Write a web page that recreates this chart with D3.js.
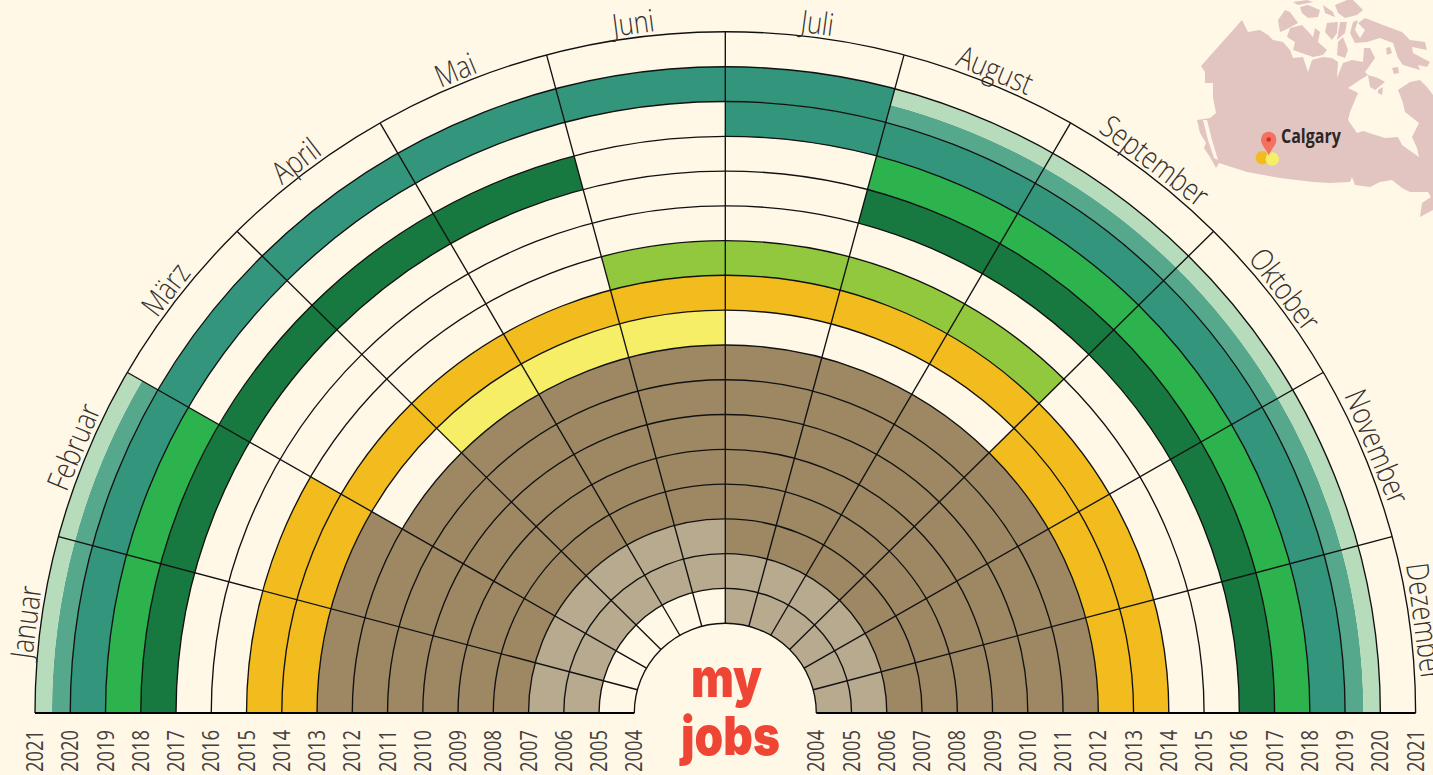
<!DOCTYPE html>
<html><head><meta charset="utf-8">
<script src="https://cdn.jsdelivr.net/npm/d3@7"></script>
<style>
html,body{margin:0;padding:0;background:#fff8e7;overflow:hidden}
svg{display:block}
</style></head><body><svg id="c" width="1433" height="775"></svg>
<script>
const months=["Januar","Februar","März","April","Mai","Juni","Juli","August","September","Oktober","November","Dezember"];
const yearLabels=[2004,2005,2006,2007,2008,2009,2010,2011,2012,2013,2014,2015,2016,2017,2018,2019,2020,2021];
const y2004="______LLLLLL".split("");
const y2005="LLLLLLLLLLLL".split("");
const y2006="LLLLLLBBBBBB".split("");
const y2007="BBBBBBBBBBBB".split("");
const y2008="BBBBBBBBBBBB".split("");
const y2009="BBBBBBBBBBBB".split("");
const y2010="BBBBBBBBBBBB".split("");
const y2011="BBBBBBBBBBBB".split("");
const y2012="BB_PPP___OOO".split("");
const y2013="OOOOOOOOOOOO".split("");
const y2014="OO___MMMM___".split("");
const y2015="____________".split("");
const y2016="_______DDDDD".split("");
const y2017="DDDDD__GGGGG".split("");
const y2018="GG____TTTTTT".split("");
const y2019="TTTTTTTSSSSS".split("");
const y2020="SS__________".split("");
const rows=[y2004,y2005,y2006,y2007,y2008,y2009,y2010,y2011,y2012,y2013,y2014,y2015,y2016,y2017,y2018,y2019,y2020];
const jobColors={L:"#b8aa8e",B:"#9e8864",O:"#f2bc1f",P:"#f6ee66",M:"#92c83e",D:"#17793f",G:"#2cb34d",T:"#32957c"};
const splitOuter="#b6dcbb", splitInner="#56a88d";

// decorative map outline
const land=[[1242,20],[1248,32],[1260,30],[1268,35],[1273,40],[1283,42],[1290,50],[1293,58],[1303,57],[1308,72],[1312,60],[1323,57],[1332,58],[1338,62],[1337,78],[1343,63],[1352,60],[1363,62],[1364,48],[1370,48],[1375,58],[1368,68],[1365,72],[1368,75],[1360,80],[1348,88],[1358,93],[1350,112],[1348,120],[1357,133],[1363,131],[1385,138],[1398,137],[1402,145],[1419,157],[1417,148],[1412,137],[1419,123],[1405,112],[1403,103],[1398,90],[1410,82],[1420,80],[1427,87],[1433,95],[1433,210],[1420,217],[1422,203],[1431,197],[1428,192],[1410,192],[1402,188],[1392,180],[1380,182],[1370,187],[1355,185],[1352,177],[1350,182],[1330,183],[1313,182],[1280,178],[1247,172],[1219,163],[1216,168],[1210,157],[1204,148],[1206,143],[1200,133],[1197,120],[1210,118],[1216,113],[1213,97],[1213,83],[1205,83],[1205,72],[1201,66]];
const islands=[
[[1278,20],[1285,10],[1290,12],[1298,23],[1285,30],[1280,32]],
[[1290,28],[1302,25],[1313,37],[1315,28],[1320,32],[1318,42],[1327,50],[1323,55],[1313,57],[1293,50],[1295,42],[1287,37]],
[[1300,7],[1308,5],[1320,10],[1318,17],[1308,18],[1302,13]],
[[1293,2],[1307,0],[1313,2],[1303,4],[1298,5]],
[[1323,5],[1333,12],[1335,17],[1325,13]],
[[1335,5],[1347,0],[1353,0],[1363,10],[1357,15],[1345,18],[1338,13]],
[[1327,23],[1338,22],[1337,33],[1332,40],[1325,32]],
[[1340,22],[1347,22],[1345,33],[1337,40]],
[[1338,42],[1343,37],[1348,50],[1345,58],[1337,55]],
[[1353,22],[1358,20],[1355,30],[1360,38],[1365,30],[1358,23],[1365,18],[1383,25],[1402,32],[1410,40],[1425,42],[1427,50],[1412,47],[1413,53],[1430,62],[1427,67],[1418,65],[1420,70],[1403,65],[1398,58],[1393,43],[1380,38],[1367,42],[1355,43],[1350,33]],
[[1392,68],[1398,67],[1399,73],[1394,74]],
[[1386,48],[1390,47],[1392,53],[1387,55]],
[[1368,75],[1378,78],[1385,82],[1375,90],[1370,87]],
[[1378,90],[1383,87],[1382,95],[1378,93]]
];
const channels=[[[1203,120],[1207,120],[1212,140],[1218,160],[1214,158],[1208,140]]];

const svg=d3.select("#c");
const cx=725.3, cy=713, yScale=0.9866;
const ring=d3.scaleLinear().domain([0,17]).range([91,690.3]);
const angle=d3.scaleLinear().domain([0,12]).range([-Math.PI/2,Math.PI/2]);
const g=svg.append("g").attr("transform",`translate(${cx},${cy}) scale(1,${yScale})`);
const arc=d3.arc();
const cells=[];
rows.forEach((row,i)=>row.forEach((c,m)=>{if(c!=="_")cells.push({c,m,i});}));
g.selectAll("path.cell").data(cells).join("path").attr("class","cell")
 .attr("d",d=>arc({innerRadius:ring(d.i),outerRadius:ring(d.c==="S"?d.i+0.52:d.i+1),startAngle:angle(d.m),endAngle:angle(d.m+1)}))
 .attr("fill",d=>d.c==="S"?splitInner:jobColors[d.c]);
g.selectAll("path.outer").data(cells.filter(d=>d.c==="S")).join("path").attr("class","outer")
 .attr("d",d=>arc({innerRadius:ring(d.i+0.52),outerRadius:ring(d.i+1),startAngle:angle(d.m),endAngle:angle(d.m+1)}))
 .attr("fill",splitOuter);
g.selectAll("path.ringline").data(d3.range(18)).join("path").attr("class","ringline")
 .attr("d",i=>arc({innerRadius:ring(i),outerRadius:ring(i),startAngle:angle(0),endAngle:angle(12)}))
 .attr("fill","none").attr("stroke","#111").attr("stroke-width",1.35);
g.selectAll("line.spoke").data(d3.range(1,12)).join("line").attr("class","spoke")
 .attr("x1",m=>ring(0)*Math.sin(angle(m))).attr("y1",m=>-ring(0)*Math.cos(angle(m)))
 .attr("x2",m=>ring(17)*Math.sin(angle(m))).attr("y2",m=>-ring(17)*Math.cos(angle(m)))
 .attr("stroke","#111").attr("stroke-width",1.35);
[[-ring(17),-ring(0)],[ring(0),ring(17)]].forEach(([a,b])=>{
  svg.append("line").attr("x1",cx+a).attr("x2",cx+b).attr("y1",cy).attr("y2",cy).attr("stroke","#000").attr("stroke-width",2);
});
const ink="#35302f";
const labelFont="'Open Sans',sans-serif";
svg.selectAll("text.month").data(months).join("text").attr("class","month")
 .attr("transform",(d,m)=>{
   const a=angle(m+0.5), r=ring(17)+15;
   return `translate(${cx+r*Math.sin(a)},${cy-r*yScale*Math.cos(a)}) rotate(${a*180/Math.PI}) scale(.82,1)`;
 })
 .attr("text-anchor","middle").attr("dy","0.35em")
 .attr("font-family",labelFont).attr("font-weight",350).attr("font-size",31).attr("fill",ink)
 .text(d=>d);
yearLabels.forEach(y=>{
  const r=ring(y-2004);
  [-1,1].forEach(s=>{
    svg.append("text").attr("transform",`translate(${cx+s*r+8},730) rotate(-90) scale(.8,1)`)
     .attr("text-anchor","end").attr("font-family",labelFont)
     .attr("font-size",23).attr("fill","#45403e").text(y);
  });
});
// title, fitted to the reference's word widths
const title=svg.append("g").attr("fill","#ef4535").attr("font-family","Inter,sans-serif").attr("font-weight",900);
[["my",726.5,696.7,71],["jobs",730.5,755,99]].forEach(([w,x,y,tw])=>{
  const t=title.append("text").attr("font-size",54).attr("text-anchor","middle").text(w);
  const k=tw/t.node().getComputedTextLength();
  t.attr("transform",`translate(${x},${y}) scale(${k},1)`);
});
const poly=d3.line();
const mapG=svg.insert("g",":first-child");
mapG.append("path").attr("d",poly(land)+"Z").attr("fill","#e2c4c0");
mapG.selectAll("path.i").data(islands).join("path").attr("class","i").attr("d",d=>poly(d)+"Z").attr("fill","#e2c4c0");
mapG.selectAll("path.w").data(channels).join("path").attr("class","w").attr("d",d=>poly(d)+"Z").attr("fill","#fff8e7");
const pinX=1268.7,pinY=139.5,pinR=7.7;
svg.append("circle").attr("cx",1262.3).attr("cy",157.7).attr("r",6.7).attr("fill","#f2bc1f");
svg.append("circle").attr("cx",1272.3).attr("cy",159).attr("r",6.7).attr("fill","#f6ee66");
svg.append("path").attr("d",`M${pinX},${pinY+16} C${pinX-2},${pinY+10} ${pinX-pinR},${pinY+6} ${pinX-pinR},${pinY} A${pinR},${pinR} 0 1 1 ${pinX+pinR},${pinY} C${pinX+pinR},${pinY+6} ${pinX+2},${pinY+10} ${pinX},${pinY+16}Z`).attr("fill","#f4705f");
svg.append("circle").attr("cx",pinX).attr("cy",pinY).attr("r",2.2).attr("fill","#c8322a");
svg.append("text").attr("transform","translate(1281,143) scale(.8,1)").attr("font-family",labelFont).attr("font-weight",700).attr("font-size",20).attr("fill","#2b2627").text("Calgary");
</script></body></html>
